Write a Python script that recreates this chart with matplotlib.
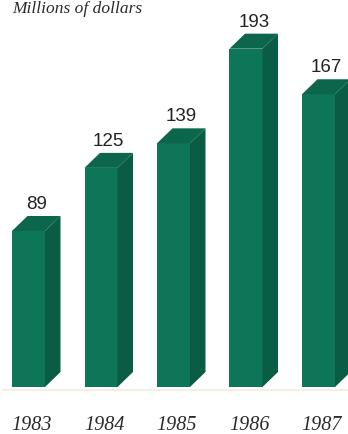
import matplotlib
matplotlib.use("Agg")
import matplotlib.pyplot as plt
from matplotlib.patches import Polygon

# ── Data ────────────────────────────────────────────────────────────────
years = ["1983", "1984", "1985", "1986", "1987"]
values = [89, 125, 139, 193, 167]
title = "Millions of dollars"

# ── Style ───────────────────────────────────────────────────────────────
FRONT = "#0e7658"
SIDE = "#0a5c44"
TOP = "#0b664b"
TEXT = "#2b2b2b"

W, H, DPI = 348, 434, 100
fig = plt.figure(figsize=(W / DPI, H / DPI), dpi=DPI)
fig.patch.set_facecolor("white")
ax = fig.add_axes([0, 0, 1, 1])
ax.axis("off")

# pixel scales: 72.5 px per bar slot, 1.753 px per million
px_x, px_y = 72.5, 1.753
ax.set_xlim(-28.5 / px_x, -28.5 / px_x + W / px_x)
ax.set_ylim(-47 / px_y, -47 / px_y + H / px_y)

half = 16.5 / px_x          # half of front face width
dx, dy = 15.5 / px_x, 15 / px_y  # 3-D depth offset

# faint baseline
ax.plot([-0.35, 4.6], [-3 / px_y, -3 / px_y], color="#f1ecdc", lw=1.2, zorder=0)

for i, v in enumerate(values):
    l, r = i - half, i + half
    front = Polygon([(l, 0), (r, 0), (r, v), (l, v)], closed=True,
                    facecolor=FRONT, edgecolor="none")
    side = Polygon([(r, 0), (r + dx, dy), (r + dx, v + dy), (r, v)], closed=True,
                   facecolor=SIDE, edgecolor="none")
    top = Polygon([(l, v), (r, v), (r + dx, v + dy), (l + dx, v + dy)], closed=True,
                  facecolor=TOP, edgecolor="none")
    for p in (front, side, top):
        ax.add_patch(p)
    ax.text(i + dx / 2, v + dy + 7 / px_y, str(v), ha="center", va="baseline",
            fontsize=13.5, color="#222222",
            family=["Liberation Sans Narrow", "Liberation Sans"])
    ax.text(i + 3.5 / px_x, -43 / px_y, years[i], ha="center", va="baseline",
            fontsize=14.5, color=TEXT, family="Liberation Serif", style="italic")

fig.text(12 / W, 1 - 13 / H, title, ha="left", va="baseline",
         fontsize=12.5, color=TEXT, family="Liberation Serif", style="italic")

fig.savefig("out.png", dpi=DPI, facecolor="white")
